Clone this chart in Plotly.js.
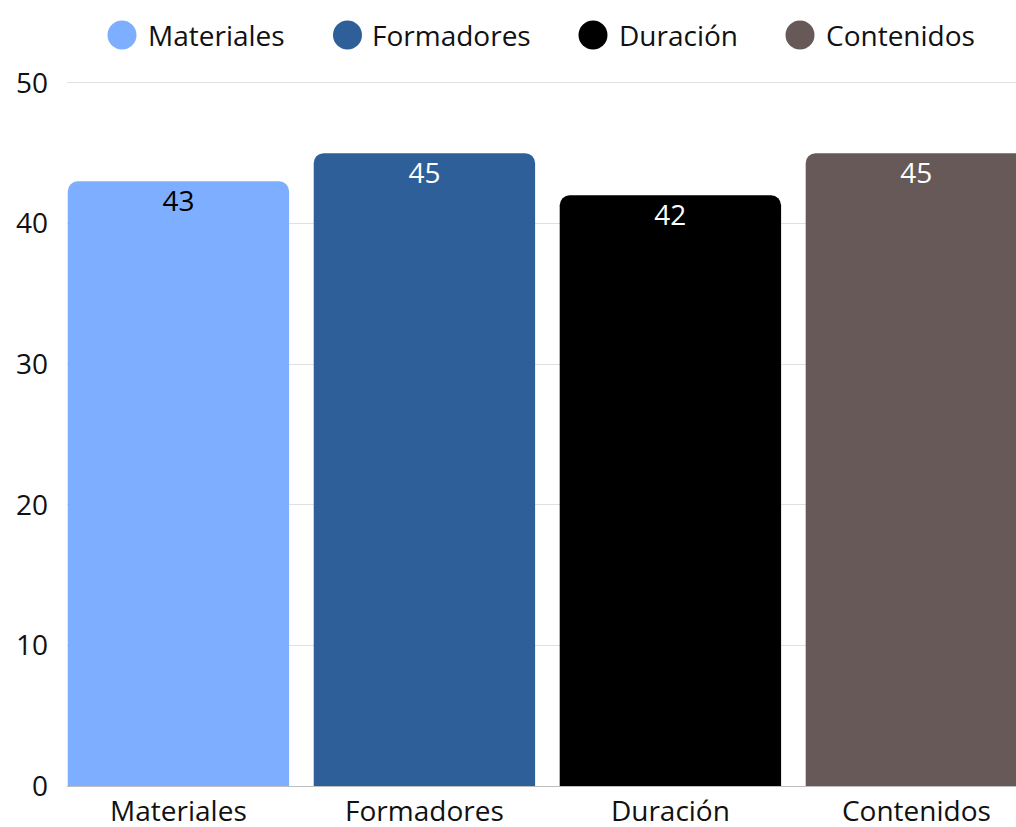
<!DOCTYPE html>
<html>
<head>
<meta charset="utf-8">
<script src="https://cdn.plot.ly/plotly-3.0.1.min.js"></script>
<style>
  html, body { margin: 0; padding: 0; background: #fff; }
  #chart { width: 1016px; height: 827px; }
</style>
</head>
<body>
<div id="chart"></div>
<script>
const categories = ["Materiales", "Formadores", "Duración", "Contenidos"];
const values = [43, 45, 42, 45];
const barColors = ["#7DAEFF", "#2E5F98", "#000000", "#665957"];
const labelColors = ["#000000", "#FFFFFF", "#FFFFFF", "#FFFFFF"];
const yTicks = [0, 10, 20, 30, 40, 50];

const W = 1016, H = 827;
const M = { l: 67, r: 0, t: 80, b: 41 };
const YMAX = 50.2;
const pw = W - M.l - M.r, ph = H - M.t - M.b;
const px2x = px => (px - M.l) / pw;
const py2y = py => (H - M.b - py) / ph;

const FONT = "Open Sans, Noto Sans, sans-serif";
const FS = 28;

const bars = {
  type: "bar",
  x: categories,
  y: values,
  marker: { color: barColors, line: { width: 0 } },
  hoverinfo: "x+y",
  showlegend: false
};

const labels = {
  type: "scatter",
  mode: "markers+text",
  x: categories,
  y: values,
  text: values.map(String),
  textposition: "bottom center",
  textfont: { family: FONT, size: FS, color: labelColors },
  marker: { size: 13, opacity: 0, color: "rgba(0,0,0,0)" },
  hoverinfo: "skip",
  showlegend: false,
  cliponaxis: false
};

// custom legend (big circles)
const legendCircleX = [122, 347.5, 593, 800];
const legendTextX = [146, 370, 617, 824];
const legendY = 35;
const shapes = categories.map((c, i) => ({
  type: "circle",
  xref: "paper", yref: "paper",
  xsizemode: "pixel", ysizemode: "pixel",
  xanchor: px2x(legendCircleX[i]), yanchor: py2y(legendY),
  x0: -14.5, x1: 14.5, y0: -14.5, y1: 14.5,
  fillcolor: barColors[i],
  line: { width: 0 }
}));
const annotations = categories.map((c, i) => ({
  text: c,
  xref: "paper", yref: "paper",
  x: px2x(legendTextX[i]), y: py2y(legendY),
  xanchor: "left", yanchor: "middle",
  showarrow: false,
  font: { family: FONT, size: FS, color: "#111111" }
}));

const layout = {
  width: W, height: H,
  margin: M,
  paper_bgcolor: "#ffffff",
  plot_bgcolor: "#ffffff",
  font: { family: FONT, size: FS, color: "#111111" },
  showlegend: false,
  bargap: 0.1,
  barcornerradius: 10,
  xaxis: {
    type: "category",
    range: [-0.453, 3.405],
    showgrid: false,
    showline: true,
    linecolor: "#bdbdbd",
    linewidth: 1,
    ticks: "",
    tickfont: { family: FONT, size: FS, color: "#111111" },
    fixedrange: true
  },
  yaxis: {
    range: [0, YMAX],
    tickvals: yTicks,
    ticktext: yTicks.map(String),
    showgrid: true,
    gridcolor: "#e0e0e0",
    gridwidth: 1,
    zeroline: false,
    showline: false,
    ticks: "",
    ticklabelstandoff: 18,
    tickfont: { family: FONT, size: FS, color: "#111111" },
    fixedrange: true
  },
  shapes: shapes,
  annotations: annotations
};

Plotly.newPlot("chart", [bars, labels], layout, { displayModeBar: false, staticPlot: true });
</script>
</body>
</html>
